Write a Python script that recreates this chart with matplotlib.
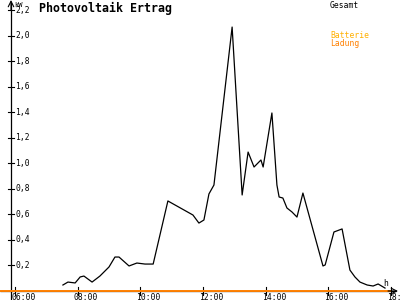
import matplotlib
matplotlib.use("Agg")
import matplotlib.pyplot as plt

# data: hours of day vs kW
hours = [7.53, 7.69, 7.92, 8.08, 8.20, 8.46, 8.71, 9.00, 9.19, 9.32, 9.64, 9.89,
         10.15, 10.41, 10.88, 11.68, 11.87, 12.03, 12.19, 12.35, 12.93, 13.25,
         13.44, 13.63, 13.85, 13.92, 14.20, 14.36, 14.43, 14.55, 14.68, 14.84,
         15.00, 15.19, 15.83, 15.90, 16.18, 16.44, 16.69, 16.85, 17.01, 17.24,
         17.43, 17.59, 17.81]
gesamt = [0.047, 0.070, 0.063, 0.110, 0.117, 0.070, 0.117, 0.188, 0.266, 0.266,
          0.196, 0.219, 0.211, 0.211, 0.705, 0.595, 0.532, 0.556, 0.760, 0.830,
          2.067, 0.752, 1.088, 0.971, 1.026, 0.971, 1.394, 0.830, 0.736, 0.728,
          0.650, 0.619, 0.579, 0.767, 0.196, 0.204, 0.462, 0.486, 0.164, 0.110,
          0.070, 0.047, 0.039, 0.055, 0.023]
ladung_hours = [5.52, 18.0]
ladung = [0.0, 0.0]
yticks = [0.2, 0.4, 0.6, 0.8, 1.0, 1.2, 1.4, 1.6, 1.8, 2.0, 2.2]
ytick_labels = ["0,2", "0,4", "0,6", "0,8", "1,0", "1,2", "1,4", "1,6", "1,8", "2,0", "2,2"]
xticks = [6, 8, 10, 12, 14, 16, 18]
xtick_labels = ["06:00", "08:00", "10:00", "12:00", "14:00", "16:00", "18:00"]

PXH = 31.33   # px per hour
PXK = 127.7   # px per kW
def hx(px):
    return 6 + (px - 15) / PXH
def ky(py):
    return (291 - py) / PXK

fig = plt.figure(figsize=(4, 3), dpi=100)
ax = fig.add_axes([0, 0, 1, 1])
ax.set_xlim(hx(0), hx(400))
ax.set_ylim(ky(300), ky(0))
ax.axis("off")

mono = "DejaVu Sans Mono"
fs = 5.8

# axes lines
ax.plot([hx(0), hx(396)], [0, 0], color="black", lw=0.9, solid_capstyle="butt")
ax.annotate("", xy=(hx(398), 0), xytext=(hx(388), 0),
            arrowprops=dict(arrowstyle="->", lw=0.8, color="black", shrinkA=0, shrinkB=0))
ax.plot([hx(11), hx(11)], [ky(300), ky(3)], color="black", lw=0.9)
ax.annotate("", xy=(hx(11), ky(0)), xytext=(hx(11), ky(10)),
            arrowprops=dict(arrowstyle="->", lw=0.8, color="black", shrinkA=0, shrinkB=0))

# y ticks
for v, lab in zip(yticks, ytick_labels):
    ax.plot([hx(8), hx(14)], [v, v], color="black", lw=0.8)
    ax.text(hx(15), v, lab, fontsize=fs, family=mono, ha="left", va="center")
# x ticks
for h, lab in zip(xticks, xtick_labels):
    ax.plot([h, h], [ky(287), ky(295)], color="black", lw=0.8)
    ax.text(h - 4 / PXH, ky(297), lab, fontsize=fs, family=mono, ha="left", va="center")

# series
ax.plot(ladung_hours, ladung, color="#ff8000", lw=1.4, solid_capstyle="butt")
ax.plot(hours, gesamt, color="black", lw=0.9)

# texts
ax.text(hx(14), ky(5), "kW", fontsize=5, family=mono, ha="left", va="center")
ax.text(hx(39), ky(8), "Photovoltaik Ertrag", fontsize=8.4, family=mono,
        weight="bold", ha="left", va="center")
ax.text(hx(330), ky(5), "Gesamt", fontsize=fs, family=mono, ha="left", va="center")
ax.text(hx(330), ky(36), "Batterie", fontsize=fs, family=mono, color="#ffb000",
        ha="left", va="center")
ax.text(hx(330), ky(44), "Ladung", fontsize=fs, family=mono, color="#ff8000",
        ha="left", va="center")
ax.text(hx(386), ky(283), "h", fontsize=fs, family=mono, ha="center", va="center")

fig.savefig("out.png", dpi=100)
